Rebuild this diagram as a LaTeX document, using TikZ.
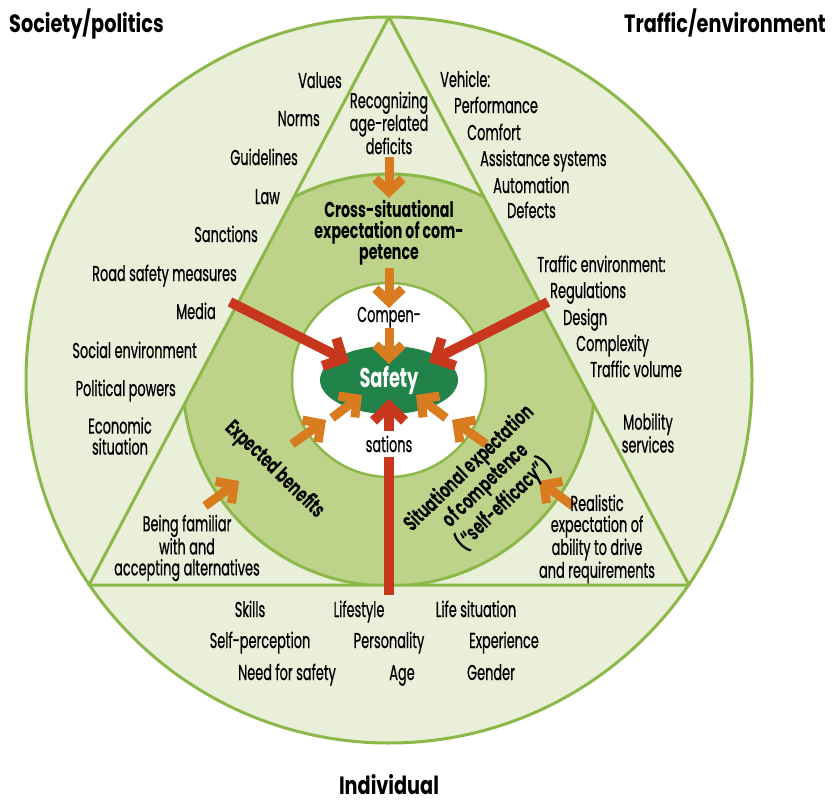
\documentclass[tikz,border=0pt]{standalone}
\usepackage{fontspec}
\setmainfont{Poppins}
\newfontfamily\condfont[FakeStretch=0.6, FakeBold=0.6]{Poppins}
\newfontfamily\ringfont[FakeStretch=0.66]{Poppins}
\newfontfamily\headfont[FakeStretch=0.77]{Poppins}
\usepackage{xcolor}
\definecolor{outergreen}{HTML}{E9EFD9}
\definecolor{ringgreen}{HTML}{BED38A}
\definecolor{rimgreen}{HTML}{8CB84A}
\definecolor{safegreen}{HTML}{21834A}
\definecolor{arrred}{HTML}{C8361E}
\definecolor{arrorange}{HTML}{D97B1F}
\usepackage{tikz}
\usetikzlibrary{arrows.meta, shapes.geometric}

\begin{document}
\begin{tikzpicture}[
  x=1pt, y=-1pt,
  lbl/.style={font=\condfont\fontsize{21.5}{21}\selectfont, inner sep=0pt},
  ringlbl/.style={font=\ringfont\bfseries\fontsize{21.5}{21}\selectfont,
                  inner sep=0pt, align=center},
  head/.style={font=\headfont\bfseries\fontsize{25}{25}\selectfont, inner sep=0pt},
  rim/.style={draw=rimgreen, line width=3pt},
  orangearr/.style={draw=arrorange, line width=9pt,
                    -{Straight Barb[length=13pt, width=27pt]}},
  redarr/.style={draw=arrred, line width=10pt,
                 -{Straight Barb[length=15pt, width=31pt]}}
]
  \useasboundingbox (0,0) rectangle (838,800);

  % outer circle and the triangle of the three spheres
  \coordinate (top)   at (389,17);
  \coordinate (left)  at (89,585);
  \coordinate (right) at (689,585);
  \filldraw[rim, fill=outergreen] (389,380) circle (363);
  \begin{scope}
    \clip (left) -- (top) -- (right) -- cycle;
    \filldraw[rim, fill=ringgreen] (389,380) circle (206);
  \end{scope}
  \draw[rim, line join=round] (left) -- (top) -- (right) -- cycle;
  \filldraw[rim, line width=2.5pt, fill=white] (389,380) circle (97);

  \node[ellipse, fill=safegreen, minimum width=138pt, minimum height=68pt,
        inner sep=0pt, text=white, font=\ringfont\bfseries\fontsize{27}{27}\selectfont]
        (safety) at (389,380) {Safety};

  % arrow ends
  \coordinate (o1a) at (389,157); \coordinate (o1b) at (389,198);
  \coordinate (o2a) at (389,268); \coordinate (o2b) at (389,308);
  \coordinate (o3a) at (389,328); \coordinate (o3b) at (389,364);
  \coordinate (o4a) at (292,444); \coordinate (o4b) at (326,420);
  \coordinate (o5a) at (332,418); \coordinate (o5b) at (362,395);
  \coordinate (o6a) at (205,506); \coordinate (o6b) at (239,481);
  \coordinate (o7a) at (486,444); \coordinate (o7b) at (452,420);
  \coordinate (o8a) at (446,418); \coordinate (o8b) at (416,395);
  \coordinate (o9a) at (573,506); \coordinate (o9b) at (539,481);
  \coordinate (r1a) at (230,302); \coordinate (r1b) at (349,362);
  \coordinate (r2a) at (548,302); \coordinate (r2b) at (429,362);
  \coordinate (r3a) at (389,595); \coordinate (r3b) at (389,399);

  \draw[orangearr] (o1a) -- (o1b);
  \draw[orangearr] (o2a) -- (o2b);
  \draw[orangearr] (o3a) -- (o3b);
  \draw[orangearr] (o4a) -- (o4b);
  \draw[orangearr] (o5a) -- (o5b);
  \draw[orangearr] (o6a) -- (o6b);
  \draw[orangearr] (o7a) -- (o7b);
  \draw[orangearr] (o8a) -- (o8b);
  \draw[orangearr] (o9a) -- (o9b);
  \draw[redarr] (r1a) -- (r1b);
  \draw[redarr] (r2a) -- (r2b);
  \draw[redarr] (r3a) -- (r3b);

  % headings
  \node[head, anchor=base west] (soc)  at (9,33)    {Society/politics};
  \node[head, anchor=base east] (traf) at (826,33)  {Traffic/environment};
  \node[head, anchor=base]      (ind)  at (389,794) {Individual};

  % society/politics
  \node[lbl, anchor=base east] (values)   at (342,88)  {Values};
  \node[lbl, anchor=base east] (norms)    at (320,126) {Norms};
  \node[lbl, anchor=base east] (guide)    at (298,165) {Guidelines};
  \node[lbl, anchor=base east] (law)      at (280,204) {Law};
  \node[lbl, anchor=base east] (sanct)    at (258,242) {Sanctions};
  \node[lbl, anchor=base east] (roadsafe) at (237,281) {Road safety measures};
  \node[lbl, anchor=base east] (media)    at (216,319) {Media};
  \node[lbl, anchor=base east] (social)   at (197,358) {Social environment};
  \node[lbl, anchor=base east] (polit)    at (176,396) {Political powers};
  \node[lbl, align=center]     (econ)     at (120,436) {Economic\\situation};

  % traffic/environment
  \node[lbl, anchor=base west] (vehicle) at (440,87)  {Vehicle:};
  \node[lbl, anchor=base west] (perf)    at (454,113) {Performance};
  \node[lbl, anchor=base west] (comfort) at (467,140) {Comfort};
  \node[lbl, anchor=base west] (assist)  at (480,166) {Assistance systems};
  \node[lbl, anchor=base west] (autom)   at (493,193) {Automation};
  \node[lbl, anchor=base west] (defects) at (507,218) {Defects};
  \node[lbl, anchor=base west] (trafenv) at (537,272) {Traffic environment:};
  \node[lbl, anchor=base west] (regul)   at (550,298) {Regulations};
  \node[lbl, anchor=base west] (design)  at (563,325) {Design};
  \node[lbl, anchor=base west] (complex) at (576,351) {Complexity};
  \node[lbl, anchor=base west] (volume)  at (590,377) {Traffic volume};
  \node[lbl, align=center]     (mobil)   at (648,433) {Mobility\\services};

  % triangle corners
  \node[lbl, align=center] (recog)    at (389,123) {Recognizing\\age-related\\deficits};
  \node[lbl, align=center] (familiar) at (187,548) {Being familiar\\with and\\accepting alternatives};
  \node[lbl, align=center] (realist)  at (597,539)
        {Realistic\\expectation of\\ability to drive\\and requirements};

  % individual
  \node[lbl, anchor=base] (skills)  at (250,617) {Skills};
  \node[lbl, anchor=base] (life)    at (359,617) {Lifestyle};
  \node[lbl, anchor=base] (lifesit) at (476,617) {Life situation};
  \node[lbl, anchor=base] (selfp)   at (260,648) {Self-perception};
  \node[lbl, anchor=base] (person)  at (389,648) {Personality};
  \node[lbl, anchor=base] (exper)   at (504,648) {Experience};
  \node[lbl, anchor=base] (need)    at (287,680) {Need for safety};
  \node[lbl, anchor=base] (age)     at (402,680) {Age};
  \node[lbl, anchor=base] (gender)  at (491,680) {Gender};

  % expectations ring
  \node[ringlbl] (cross) at (389,233) {Cross-situational\\expectation of com-\\petence};
  \node[ringlbl, rotate=-44] (benefit) at (275,470) {Expected benefits};
  \node[ringlbl, rotate=44]  (selfeff) at (487,487)
        {Situational expectation\\of competence\\(“self-efficacy”)};

  % compensations
  \node[lbl, anchor=base] (compen) at (389,322) {Compen-};
  \node[lbl, anchor=base, fill=white, inner sep=5pt] (sations) at (389,452) {sations};
\end{tikzpicture}
\end{document}
